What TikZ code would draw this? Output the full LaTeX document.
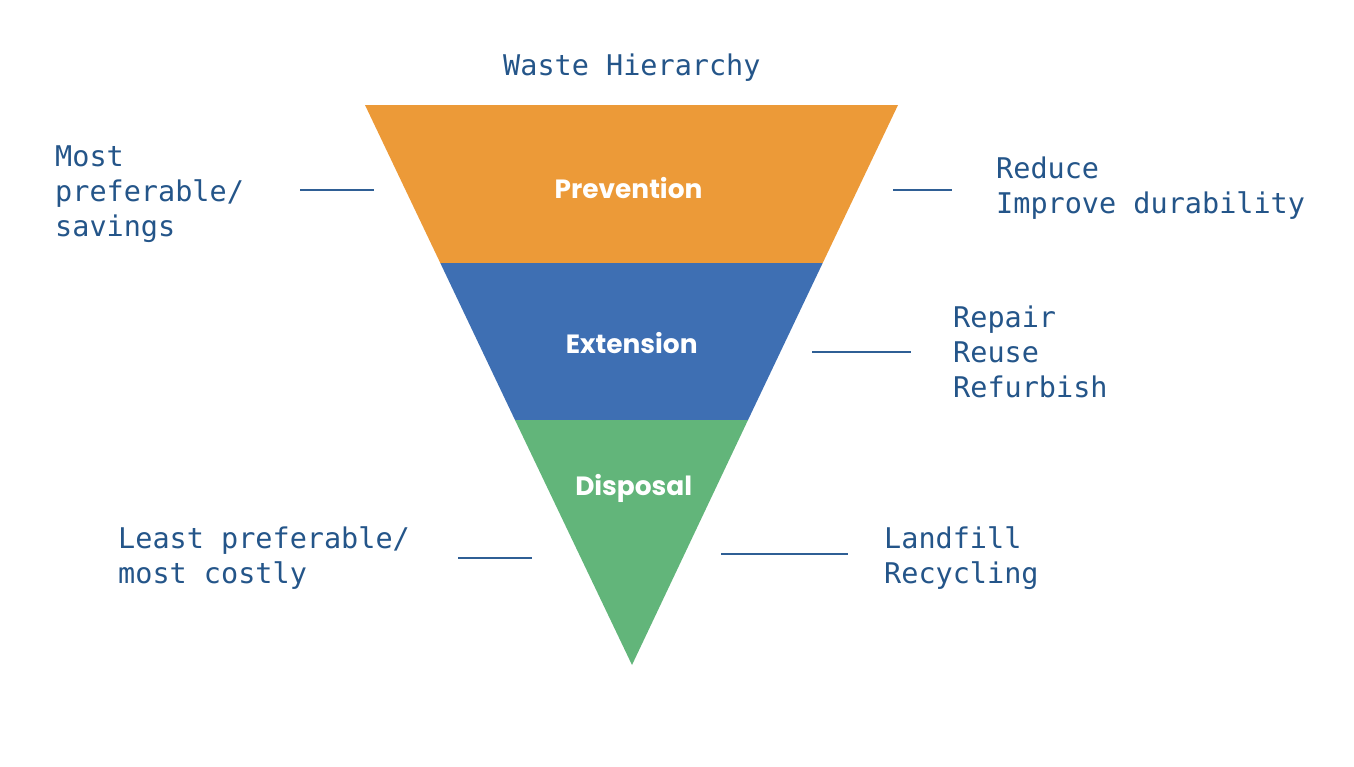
\documentclass[tikz,border=0pt]{standalone}
\usepackage{fontspec}
\newfontfamily\monofnt{DejaVu Sans Mono}
\newfontfamily\labfnt{Poppins}
\definecolor{orangeband}{HTML}{EC9A38}
\definecolor{blueband}{HTML}{3E6FB3}
\definecolor{greenband}{HTML}{62B57A}
\definecolor{txtblue}{HTML}{245589}
\definecolor{lineblue}{HTML}{2F5F95}
\tikzset{
  monotext/.style={font=\monofnt\fontsize{28.5}{35}\selectfont, text=txtblue, inner sep=0pt, align=left, anchor=base west},
  bandlabel/.style={font=\labfnt\bfseries\fontsize{26.4}{30}\selectfont, text=white, inner sep=0pt, anchor=base},
  tick/.style={draw=lineblue, line width=1.6pt}
}
\begin{document}
\begin{tikzpicture}[x=1pt,y=-1pt]
\useasboundingbox (0,0) rectangle (1354,766);
% funnel corners
\coordinate (tl) at (365,105);
\coordinate (tr) at (898,105);
\coordinate (ml) at (440.3,263);
\coordinate (mr) at (822.7,263);
\coordinate (ll) at (515,420);
\coordinate (lr) at (748,420);
\coordinate (apex) at (632,665);
\fill[orangeband] (tl) -- (tr) -- (mr) -- (ml) -- cycle;
\fill[blueband] (ml) -- (mr) -- (lr) -- (ll) -- cycle;
\fill[greenband] (ll) -- (lr) -- (apex) -- cycle;
\node[bandlabel] (prev) at (628.5,198) {Prevention};
\node[bandlabel] (ext) at (631.7,353.5) {Extension};
\node[bandlabel] (disp) at (633.7,495) {Disposal};
% text blocks (base anchor = baseline of last line)
\node[monotext] (title) at (503,75) {Waste Hierarchy};
\node[monotext] (most) at (55,236) {Most\\preferable/\\savings};
\node[monotext] (reduce) at (996,213) {Reduce\\Improve durability};
\node[monotext] (repair) at (953,397) {Repair\\Reuse\\Refurbish};
\node[monotext] (least) at (118,583) {Least preferable/\\most costly};
\node[monotext] (landfill) at (884,583) {Landfill\\Recycling};
% ticks
\coordinate (a1) at (300,190); \coordinate (a2) at (374,190);
\coordinate (b1) at (893,190); \coordinate (b2) at (952,190);
\coordinate (c1) at (812,352); \coordinate (c2) at (911,352);
\coordinate (d1) at (458,558); \coordinate (d2) at (532,558);
\coordinate (e1) at (721,554); \coordinate (e2) at (848,554);
\draw[tick] (a1) -- (a2);
\draw[tick] (b1) -- (b2);
\draw[tick] (c1) -- (c2);
\draw[tick] (d1) -- (d2);
\draw[tick] (e1) -- (e2);
\end{tikzpicture}
\end{document}
